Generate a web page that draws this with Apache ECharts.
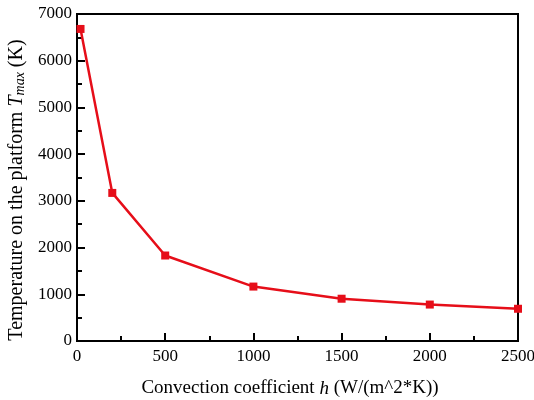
<!DOCTYPE html>
<html>
<head>
<meta charset="utf-8">
<script src="https://cdn.jsdelivr.net/npm/echarts@6/dist/echarts.min.js"></script>
<style>
  html, body { margin: 0; padding: 0; background: #fff; }
  #main { width: 534px; height: 400px; }
</style>
</head>
<body>
<div id="main"></div>
<script>
// h (W/(m^2*K)) vs max temperature (K)
var hValues = [20, 200, 500, 1000, 1500, 2000, 2500];
var tMax = [6680, 3170, 1830, 1165, 905, 780, 690];

var font = '"Liberation Serif", "Times New Roman", serif';
var plain = function (v) { return String(v); };

var chart = echarts.init(document.getElementById('main'));
chart.setOption({
    animation: false,
    textStyle: { fontFamily: font },
    grid: {
        left: 77, right: 16, top: 14, bottom: 59,
        containLabel: false,
        outerBoundsMode: 'none',
        show: true,
        borderColor: '#000',
        borderWidth: 2,
        backgroundColor: 'transparent'
    },
    xAxis: {
        type: 'value',
        min: 0, max: 2500, interval: 500,
        axisLine: { lineStyle: { color: '#000', width: 2 } },
        axisTick: { inside: true, length: 8, lineStyle: { color: '#000', width: 2 } },
        minorTick: { show: true, splitNumber: 2, length: 5, lineStyle: { color: '#000', width: 2 } },
        splitLine: { show: false },
        axisLabel: { color: '#000', fontSize: 17, fontFamily: font, margin: 7, formatter: plain },
        name: 'Convection coefficient {i|h} (W/(m^2*K))',
        nameLocation: 'middle',
        nameGap: 38,
        nameTextStyle: {
            color: '#000', fontSize: 19, fontFamily: font,
            padding: [0, 15, 0, 0],
            rich: { i: { fontStyle: 'italic', fontSize: 19, fontFamily: font, color: '#000' } }
        }
    },
    yAxis: {
        type: 'value',
        min: 0, max: 7000, interval: 1000,
        axisLine: { lineStyle: { color: '#000', width: 2 } },
        axisTick: { inside: true, length: 8, lineStyle: { color: '#000', width: 2 } },
        minorTick: { show: true, splitNumber: 2, length: 5, lineStyle: { color: '#000', width: 2 } },
        splitLine: { show: false },
        axisLabel: { color: '#000', fontSize: 17, fontFamily: font, margin: 5, formatter: plain },
        name: 'Temperature on the platform {i|T}{s|max} (K)',
        nameLocation: 'middle',
        nameGap: 44,
        nameTextStyle: {
            color: '#000', fontSize: 20, fontFamily: font,
            padding: [0, 25, 0, 0],
            rich: {
                i: { fontStyle: 'italic', fontSize: 20, fontFamily: font, color: '#000' },
                s: { fontStyle: 'italic', fontSize: 14, fontFamily: font, color: '#000', padding: [7, 0, 0, 0] }
            }
        }
    },
    series: [{
        type: 'line',
        data: hValues.map(function (h, i) { return [h, tMax[i]]; }),
        symbol: 'rect',
        symbolSize: 8,
        lineStyle: { color: '#e60e19', width: 2.5 },
        itemStyle: { color: '#e60e19' }
    }]
});
</script>
</body>
</html>
